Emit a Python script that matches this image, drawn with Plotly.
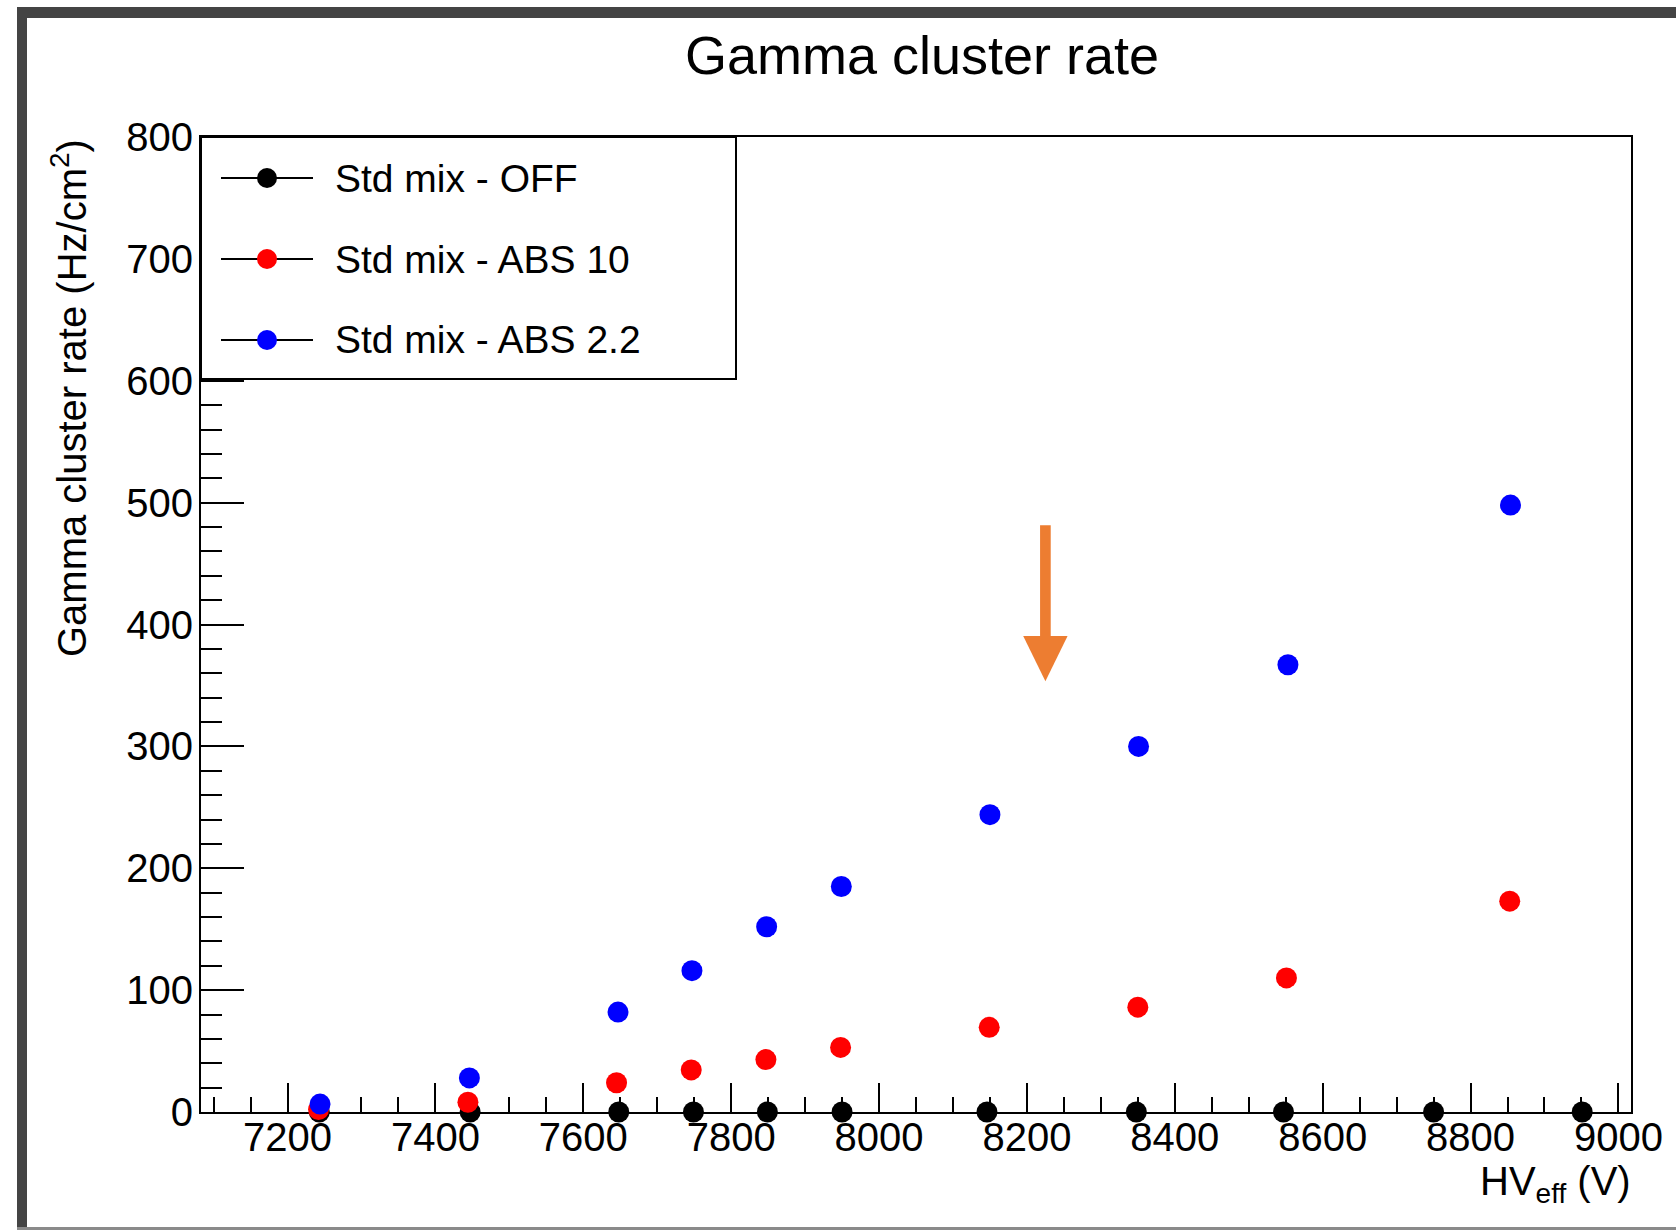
import plotly.graph_objects as go

# ---------------- data ----------------
off_hv = [7243, 7447, 7648, 7749, 7849, 7950, 8146, 8348, 8547, 8750, 8951]
off_rate = [0, 0, 0, 0, 0, 0, 0, 0, 0, 0, 0]

abs10_hv = [7242, 7444, 7645, 7746, 7847, 7948, 8149, 8350, 8551, 8853]
abs10_rate = [2, 8, 24, 34.5, 43, 53, 69.5, 86, 110, 173]

abs22_hv = [7244, 7446, 7647, 7747, 7848, 7949, 8150, 8351, 8553, 8854]
abs22_rate = [6.5, 28, 82, 116, 152, 185, 244, 300, 367, 498]

series_names = ["Std mix - OFF", "Std mix - ABS 10", "Std mix - ABS 2.2"]
series_colors = ["#000000", "#ff0000", "#0000ff"]

# ---------------- geometry (pixels) ----------------
W, H = 1676, 1230
L, R, T, B = 201, 1631, 137, 1112
PW, PH = R - L, B - T
FONT = "Liberation Sans, Arial, Helvetica, sans-serif"


def px(xpix):
    return (xpix - L) / PW


def py(ypix):
    return (B - ypix) / PH


fig = go.Figure()
for xs, ys, name, col in [
    (off_hv, off_rate, series_names[0], series_colors[0]),
    (abs10_hv, abs10_rate, series_names[1], series_colors[1]),
    (abs22_hv, abs22_rate, series_names[2], series_colors[2]),
]:
    fig.add_trace(go.Scatter(
        x=xs, y=ys, mode="markers", name=name,
        marker=dict(color=col, size=21, line=dict(width=0)),
        cliponaxis=False, showlegend=False,
    ))

shapes = []
annotations = []

# outer canvas frame
frame_col = "#444444"
shapes.append(dict(type="rect", xref="paper", yref="paper",
                   x0=px(17), x1=px(1676), y0=py(18), y1=py(7),
                   fillcolor=frame_col, line=dict(width=0), layer="above"))
shapes.append(dict(type="rect", xref="paper", yref="paper",
                   x0=px(17), x1=px(27), y0=py(1230), y1=py(7),
                   fillcolor=frame_col, line=dict(width=0), layer="above"))
shapes.append(dict(type="rect", xref="paper", yref="paper",
                   x0=px(17), x1=px(1676), y0=py(1230), y1=py(1227),
                   fillcolor="#8a8a8a", line=dict(width=0), layer="above"))

# legend box
shapes.append(dict(type="rect", xref="paper", yref="paper",
                   x0=px(L), x1=px(736), y0=py(379), y1=py(T),
                   fillcolor="white", line=dict(color="black", width=2), layer="above"))
rows = [178, 259, 340]
for yy, name, col in zip(rows, series_names, series_colors):
    shapes.append(dict(type="line", xref="paper", yref="paper",
                       x0=px(221), x1=px(313), y0=py(yy), y1=py(yy),
                       line=dict(color="black", width=2), layer="above"))
    shapes.append(dict(type="circle", xref="paper", yref="paper",
                       xsizemode="pixel", ysizemode="pixel",
                       xanchor=px(267), yanchor=py(yy),
                       x0=-10, x1=10, y0=-10, y1=10,
                       fillcolor=col, line=dict(width=0), layer="above"))
    annotations.append(dict(text=name, xref="paper", yref="paper",
                            x=px(333), y=py(yy), xanchor="left", yanchor="middle",
                            showarrow=False, font=dict(family=FONT, size=39, color="black")))

# orange arrow (data coordinates)
arrow_x = 8225
arrow_top, arrow_base, arrow_tip = 481.5, 390.5, 353.5
shaft_half, head_half = 7.2, 30
orange = "#ED7D31"
shapes.append(dict(type="rect", xref="x", yref="y",
                   x0=arrow_x - shaft_half, x1=arrow_x + shaft_half,
                   y0=arrow_base, y1=arrow_top,
                   fillcolor=orange, line=dict(width=0)))
shapes.append(dict(type="path", xref="x", yref="y",
                   path=f"M {arrow_x - head_half},{arrow_base} L {arrow_x + head_half},{arrow_base} L {arrow_x},{arrow_tip} Z",
                   fillcolor=orange, line=dict(width=0)))

# axis titles
annotations.append(dict(text="Gamma cluster rate (Hz/cm<sup>2</sup>)", xref="paper", yref="paper",
                        x=px(69), y=py(137), xanchor="center", yanchor="top",
                        textangle=-90, showarrow=False,
                        font=dict(family=FONT, size=40, color="black")))
annotations.append(dict(text="HV<sub>eff</sub> (V)", xref="paper", yref="paper",
                        x=px(1633), y=py(1184), xanchor="right", yanchor="middle",
                        showarrow=False,
                        font=dict(family=FONT, size=40, color="black")))

fig.update_layout(
    width=W, height=H,
    margin=dict(l=L, r=W - R, t=T, b=H - B),
    paper_bgcolor="white", plot_bgcolor="white",
    font=dict(family=FONT, color="black"),
    title=dict(text="Gamma cluster rate", x=(L + PW / 2 + 6) / W, xanchor="center",
               y=1 - 55 / H, yanchor="middle",
               font=dict(family=FONT, size=54, color="black")),
    shapes=shapes, annotations=annotations, showlegend=False,
    xaxis=dict(range=[7083, 9017], tick0=7200, dtick=200,
               ticks="inside", ticklen=29, tickwidth=2, tickcolor="black",
               minor=dict(tick0=7100, dtick=50, ticks="inside", ticklen=15, tickwidth=2, tickcolor="black"),
               showline=True, linewidth=2, linecolor="black", mirror=True,
               showgrid=False, zeroline=False, layer="below traces",
               tickfont=dict(family=FONT, size=40, color="black"), ticklabelstandoff=-11),
    yaxis=dict(range=[0, 800], tick0=0, dtick=100,
               ticks="inside", ticklen=43, tickwidth=2, tickcolor="black",
               minor=dict(dtick=20, ticks="inside", ticklen=21, tickwidth=2, tickcolor="black"),
               showline=True, linewidth=2, linecolor="black", mirror=True,
               showgrid=False, zeroline=False, layer="below traces",
               tickfont=dict(family=FONT, size=40, color="black"), ticklabelstandoff=-2),
)

fig.write_html("out.html")
